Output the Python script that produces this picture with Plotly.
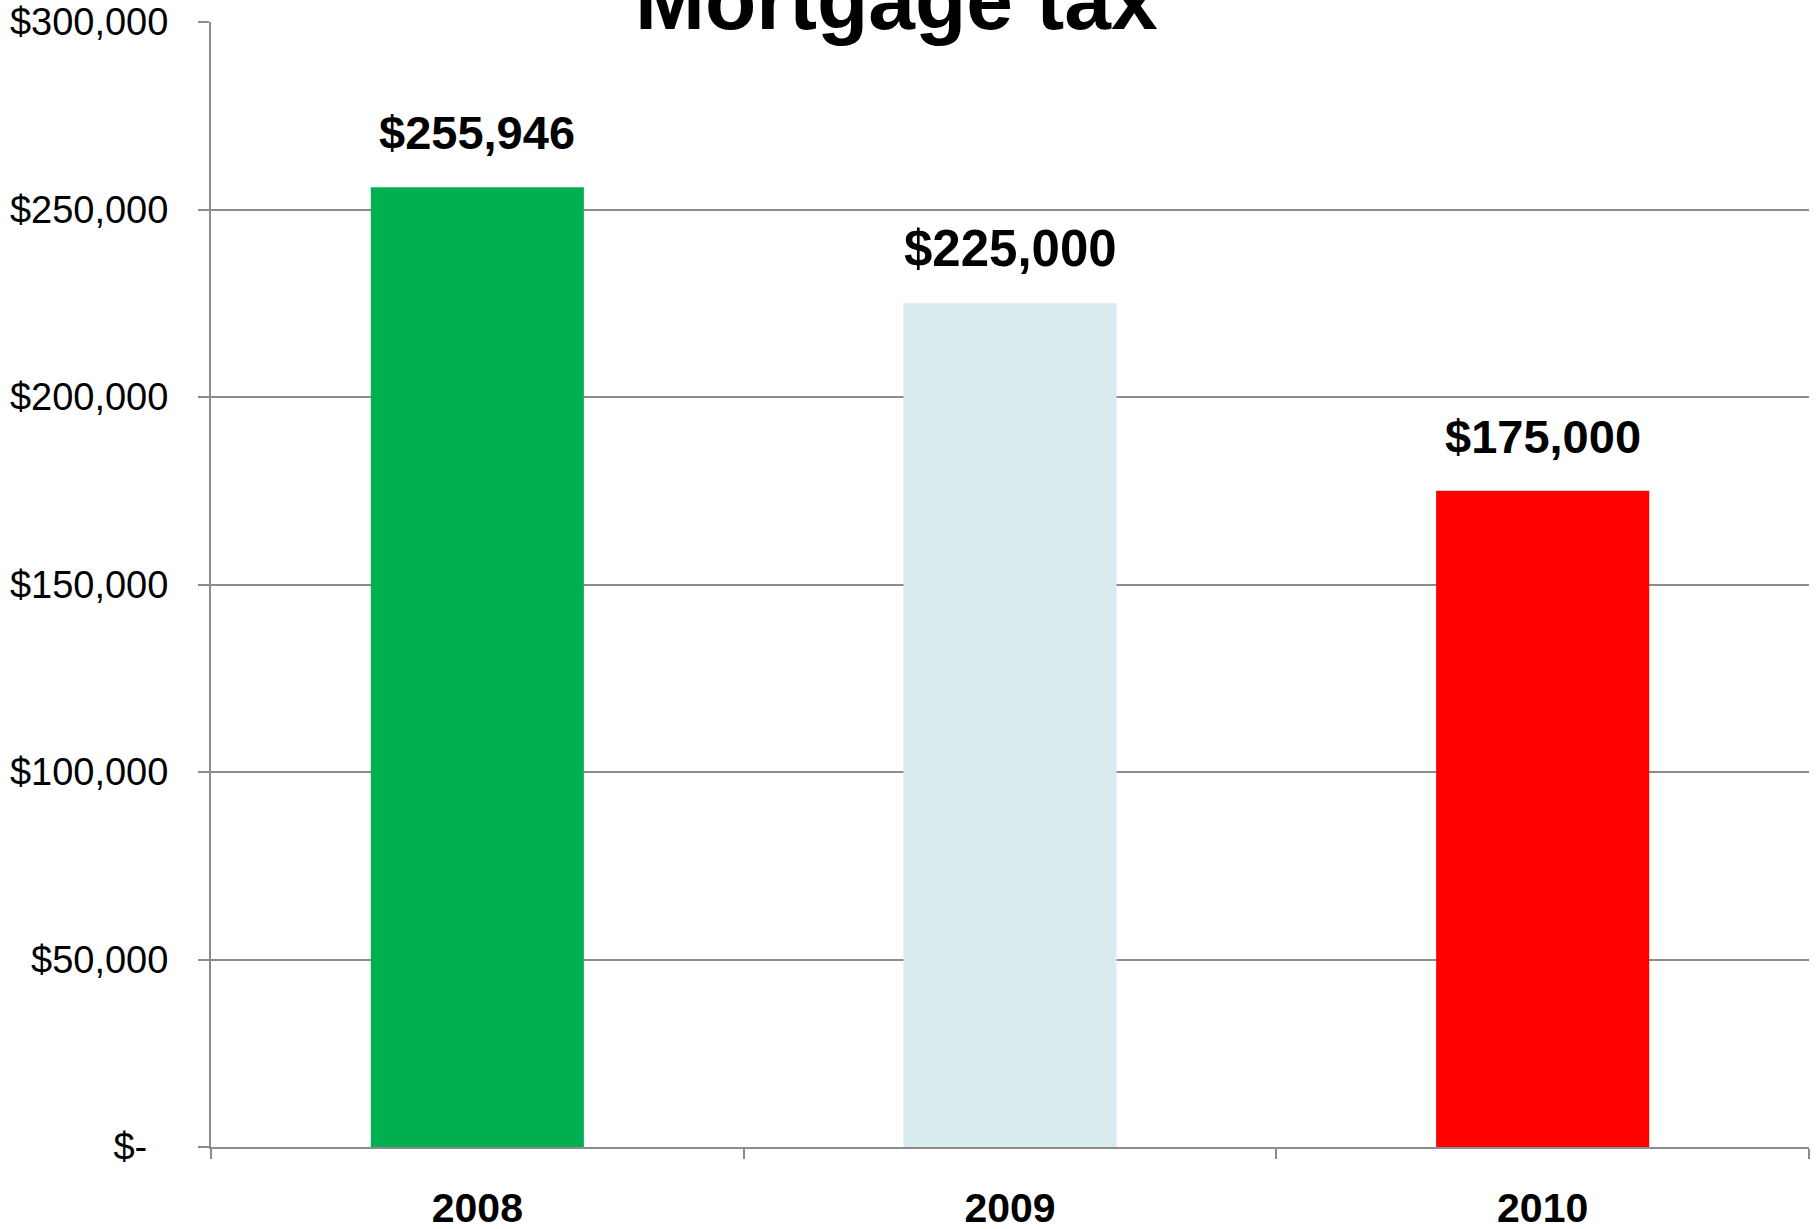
import plotly.graph_objects as go

years = ["2008", "2009", "2010"]
values = [255946, 225000, 175000]
bar_colors = ["#00B050", "#D7EBEF", "#FF0000"]
value_labels = ["$255,946", "$225,000", "$175,000"]
label_sizes = [47, 51, 47]
y_tickvals = [0, 50000, 100000, 150000, 200000, 250000, 300000]
y_ticktext = ["$-\u00a0\u00a0", "$50,000", "$100,000", "$150,000", "$200,000", "$250,000", "$300,000"]
title_text = "Mortgage tax"

FONT = "Arial, Liberation Sans, sans-serif"
GRID = "#8C8C8C"

fig = go.Figure()
fig.add_trace(go.Bar(x=years, y=values, marker=dict(color=bar_colors, line=dict(width=0)),
                     hoverinfo="skip"))

for i, (v, lab, sz) in enumerate(zip(values, value_labels, label_sizes)):
    fig.add_annotation(x=i, y=v, text="<b>%s</b>" % lab, showarrow=False,
                       yanchor="bottom", yshift=26 - (sz - 47) // 2,
                       font=dict(family=FONT, size=sz, color="black"))

fig.add_annotation(xref="paper", yref="paper", x=0.429, y=1, text="<b>%s</b>" % title_text,
                   showarrow=False, yanchor="bottom", xanchor="center", yshift=-27,
                   font=dict(family=FONT, size=84, color="black"))

fig.update_layout(
    width=1816, height=1229,
    margin=dict(l=211, r=7, t=22, b=82, autoexpand=False),
    paper_bgcolor="white", plot_bgcolor="white",
    bargap=0.6, showlegend=False,
    xaxis=dict(type="category", range=[-0.5, 2.5], tickson="boundaries", ticks="outside", ticklen=10,
               tickwidth=2, tickcolor=GRID, showline=True, linecolor=GRID, linewidth=2,
               showgrid=False, tickfont=dict(family=FONT, size=41, color="black"),
               tickprefix="<b>", ticksuffix="</b>", ticklabelstandoff=24, tickangle=0,
               automargin=False),
    yaxis=dict(range=[0, 300000], tickvals=y_tickvals, ticktext=y_ticktext,
               ticks="outside", ticklen=11, tickwidth=2, tickcolor=GRID,
               showline=True, linecolor=GRID, linewidth=2,
               showgrid=True, gridcolor=GRID, gridwidth=2, zeroline=False,
               tickfont=dict(family=FONT, size=38, color="black"), ticklabelstandoff=22,
               automargin=False),
)

fig.write_html("out.html", config={"displayModeBar": False},
               post_script="document.body.style.margin='0';document.body.style.overflow='hidden';")
